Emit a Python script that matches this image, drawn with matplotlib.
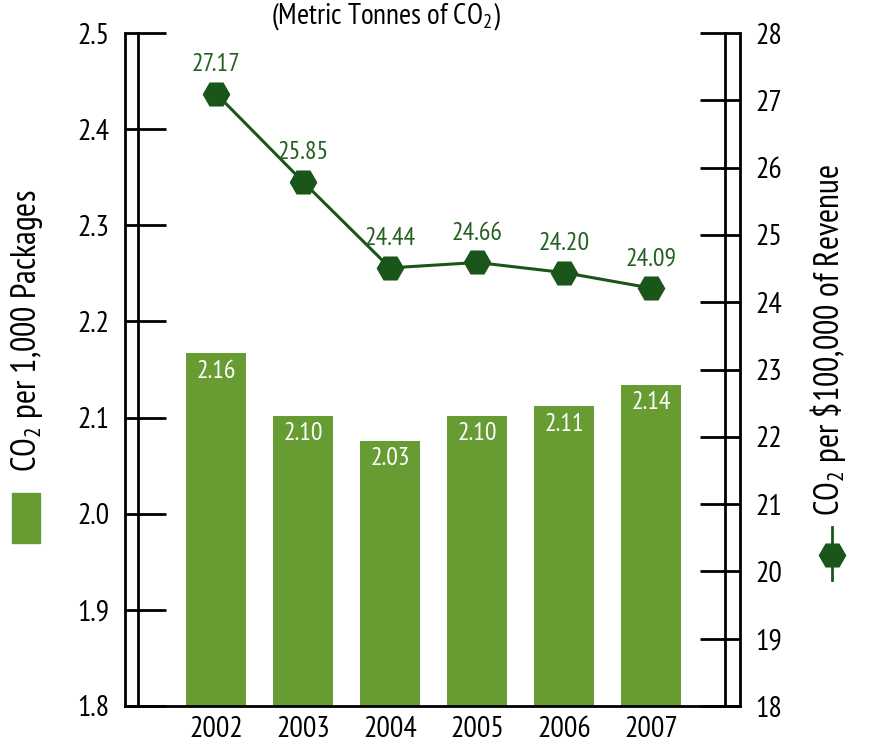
import matplotlib
matplotlib.use('Agg')
import matplotlib.pyplot as plt
from matplotlib.patches import Rectangle
from matplotlib.lines import Line2D

# Fuente condensada parecida al original
plt.rcParams['font.family'] = ['PT Sans Narrow', 'Open Sans Condensed', 'DejaVu Sans']
plt.rcParams['mathtext.fontset'] = 'custom'
plt.rcParams['mathtext.rm'] = 'PT Sans Narrow'
plt.rcParams['mathtext.it'] = 'PT Sans Narrow'

# Datos
years = ['2002', '2003', '2004', '2005', '2006', '2007']
packages = [2.167, 2.102, 2.076, 2.102, 2.112, 2.134]        # altura de barras
packages_labels = ['2.16', '2.10', '2.03', '2.10', '2.11', '2.14']
revenue = [27.10, 25.79, 24.51, 24.59, 24.44, 24.21]          # posición de la línea
revenue_labels = ['27.17', '25.85', '24.44', '24.66', '24.20', '24.09']

left_ticks = [1.8, 1.9, 2.0, 2.1, 2.2, 2.3, 2.4, 2.5]
right_ticks = [18, 19, 20, 21, 22, 23, 24, 25, 26, 27, 28]

# Colores
color_bar = '#679c33'
color_line = '#1a561a'
color_text_line = '#235f20'

W, H = 869, 744
fig = plt.figure(figsize=(W / 100, H / 100), dpi=100)
ax = fig.add_axes([125 / W, 38 / H, 615 / W, 673 / H])
ax2 = ax.twinx()

x = list(range(len(years)))
ax.bar(x, packages, width=0.70, color=color_bar, zorder=2)
for xi, v, lab in zip(x, packages, packages_labels):
    ax.annotate(lab, (xi, v), xytext=(0, -13), textcoords='offset points',
                ha='center', va='center', color='white', fontsize=18.5)

ax2.plot(x, revenue, color=color_line, lw=2.2, marker='H', markersize=20,
         markeredgewidth=0, zorder=3)
for xi, v, lab in zip(x, revenue, revenue_labels):
    ax2.annotate(lab, (xi, v), xytext=(0, 21), textcoords='offset points',
                 ha='center', va='center', color=color_text_line, fontsize=18.5)

ax.set_xlim(-1.046, 6.023)
ax.set_ylim(1.8, 2.5)
ax2.set_ylim(18, 28)
ax.set_xticks(x)
ax.set_xticklabels(years)
ax.set_yticks(left_ticks)
ax.set_yticklabels([f'{t:.1f}' for t in left_ticks])
ax2.set_yticks(right_ticks)

lw = 2.0
for a in (ax, ax2):
    a.spines['top'].set_visible(False)
    for s in a.spines.values():
        s.set_linewidth(lw)
ax2.spines['left'].set_visible(False)
ax2.spines['bottom'].set_visible(False)
ax.spines['right'].set_visible(False)

ax.tick_params(axis='x', length=0, pad=7, labelsize=21.5)
ax.tick_params(axis='y', direction='in', length=29.5, width=lw, pad=11, labelsize=21.5)
ax2.tick_params(axis='y', direction='in', length=29, width=lw, pad=11, labelsize=21.5)

# líneas interiores de los ejes dobles
ax.plot([13 / 615] * 2, [0, 1], transform=ax.transAxes, color='black', lw=lw,
        clip_on=False, zorder=4)
ax.plot([600 / 615] * 2, [0, 1], transform=ax.transAxes, color='black', lw=lw,
        clip_on=False, zorder=4)

# Título
fig.text(386 / W, 1 - 17 / H, '(Metric Tonnes of CO$_2$)', ha='center', va='center',
         fontsize=21)

# Leyenda izquierda
fig.patches.append(Rectangle((12 / W, (H - 543) / H), 28 / W, 50 / H,
                             transform=fig.transFigure, color=color_bar))
fig.text(27 / W, 1 - 331 / H, 'CO$_2$ per 1,000 Packages', rotation=90,
         ha='center', va='center', fontsize=24.5)

# Leyenda derecha
fig.add_artist(Line2D([832 / W, 832 / W], [1 - 527 / H, 1 - 580 / H],
                      transform=fig.transFigure, color=color_line, lw=2))
fig.add_artist(Line2D([832 / W], [1 - 555 / H], transform=fig.transFigure,
                      marker='H', markersize=20, color=color_line, markeredgewidth=0))
fig.text(828 / W, 1 - 340 / H, 'CO$_2$ per \\$100,000 of Revenue', rotation=90,
         ha='center', va='center', fontsize=24.5)

fig.savefig('out.png', dpi=100)
